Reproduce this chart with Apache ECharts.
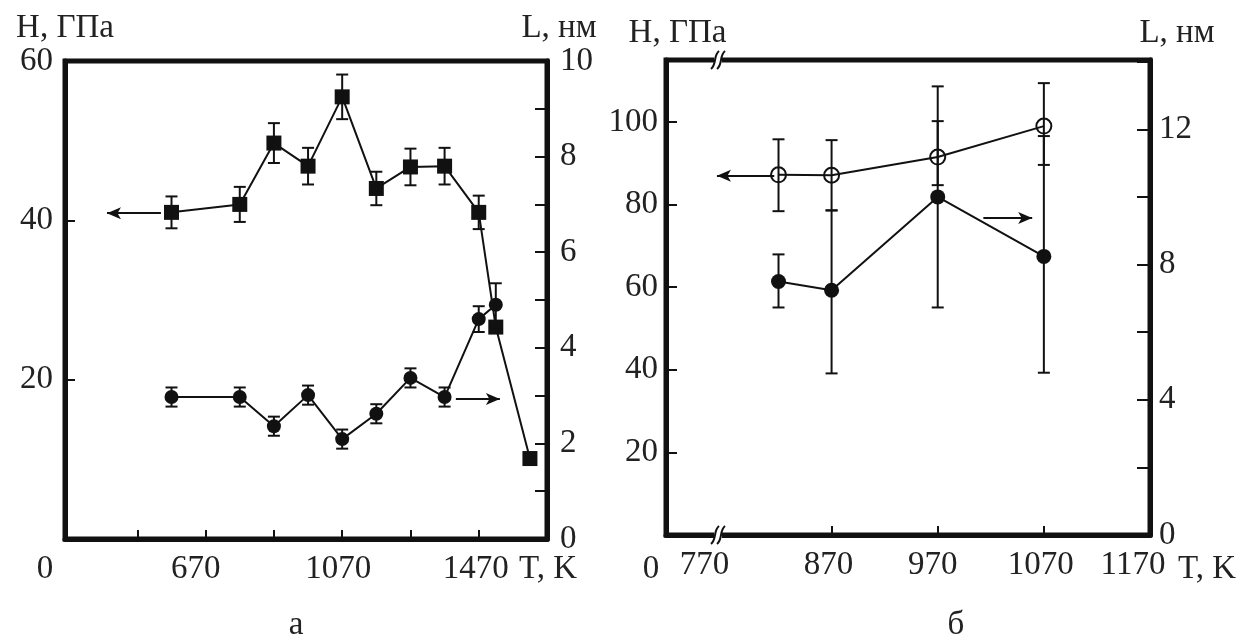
<!DOCTYPE html>
<html>
<head>
<meta charset="utf-8">
<script src="https://cdn.jsdelivr.net/npm/echarts@6/dist/echarts.min.js"></script>
<style>
  html, body { margin: 0; padding: 0; background: #fff; }
  #main { width: 1258px; height: 644px; }
</style>
</head>
<body>
<div id="main"></div>
<script>
// panel а: hardness (squares, left axis) and grain size (circles, right axis)
const tempA = [570, 770, 870, 970, 1070, 1170, 1270, 1370, 1470, 1520, 1620]
const hardA = [41, 42, 49.7, 46.8, 55.5, 44, 46.7, 46.8, 41, 26.6, 10.1]
const hardErrA = [2.0, 2.2, 2.5, 2.3, 2.8, 2.1, 2.3, 2.3, 2.1, 0, 0]
const tempSizeA = [570, 770, 870, 970, 1070, 1170, 1270, 1370, 1470, 1520]
const sizeA = [2.97, 2.97, 2.36, 3.01, 2.09, 2.62, 3.37, 2.97, 4.6, 4.9]
const sizeErrA = [0.2, 0.2, 0.2, 0.2, 0.2, 0.2, 0.2, 0.2, 0.27, 0.45]
const xTicksA = [470, 670, 870, 1070, 1270, 1470]
const xLabelsA = [670, 1070, 1470]
// arrows: [from T, to T, level]
const arrowHardA = [539, 381, 40.9]
const arrowSizeA = [1403, 1532, 2.93]

// panel б: hardness (open circles, left axis) and grain size (filled circles, right axis)
const tempB = [820, 870, 970, 1070]
const hardB = [87.2, 87.1, 91.5, 99]
const hardLowB = [78.4, 78.6, 84.7, 89.6]
const hardHighB = [95.8, 95.6, 100.2, 109.4]
const sizeB = [7.5, 7.24, 10.0, 8.24]
const sizeLowB = [6.73, 4.78, 6.73, 4.8]
const sizeHighB = [8.3, 9.6, 13.27, 11.8]
const xTicksB = [870, 970, 1070]
const xLabelsB = [770, 870, 970, 1070, 1170]
const arrowHardB = [816, 762, 87]
const arrowSizeB = [1013, 1059, 9.38]
const breakB = 763

const ink = '#111'
const txt = '#222'
const font = 'Liberation Serif'
const fs = 33

function errorBars(xs, lows, highs, xi, yi) {
  return {
    type: 'custom',
    xAxisIndex: xi,
    yAxisIndex: yi,
    z: 5,
    silent: true,
    encode: { x: 0, y: [1, 2] },
    data: xs.map((x, i) => [x, lows[i], highs[i]]),
    renderItem: (params, api) => {
      const top = api.coord([api.value(0), api.value(2)])
      const bot = api.coord([api.value(0), api.value(1)])
      const w = 6
      const st = { stroke: ink, lineWidth: 2 }
      return {
        type: 'group',
        children: [
          { type: 'line', shape: { x1: top[0], y1: top[1], x2: bot[0], y2: bot[1] }, style: st },
          { type: 'line', shape: { x1: top[0] - w, y1: top[1], x2: top[0] + w, y2: top[1] }, style: st },
          { type: 'line', shape: { x1: bot[0] - w, y1: bot[1], x2: bot[0] + w, y2: bot[1] }, style: st }
        ]
      }
    }
  }
}

function arrow(a) {
  return {
    silent: true,
    animation: false,
    symbol: ['none', 'arrow'],
    symbolSize: [9, 14],
    label: { show: false },
    lineStyle: { color: ink, width: 2, type: 'solid' },
    data: [[{ coord: [a[0], a[2]] }, { coord: [a[1], a[2]] }]]
  }
}

function shifted(shifts) {
  return v => {
    const p = shifts[v] || 0
    return '{s' + p + '|' + v + '}'
  }
}
function richFor(shifts) {
  const r = {}
  Object.values(shifts).concat([0]).forEach(p => {
    r['s' + p] = { fontFamily: font, fontSize: fs, color: txt, padding: [0, 2 * p, 0, 0] }
  })
  return r
}

const shiftsA = { 670: 10, 1070: 4, 1470: 3 }
const shiftsB = { 770: 21, 870: 3, 970: 5, 1070: 3, 1170: 17 }

const axisText = { fontFamily: font, fontSize: fs, color: txt }
const frameLine = { show: true, lineStyle: { color: ink, width: 5 } }

const option = {
  animation: false,
  backgroundColor: '#fff',
  grid: [
    { left: 65, top: 61, width: 482, height: 478, show: true, borderColor: ink, borderWidth: 5 },
    { left: 666, top: 60, width: 484, height: 475, show: true, borderColor: ink, borderWidth: 5 }
  ],
  xAxis: [
    {
      gridIndex: 0, type: 'value', min: 258, max: 1670,
      axisLine: frameLine,
      axisTick: { inside: true, length: 9, customValues: xTicksA, lineStyle: { color: ink, width: 2 } },
      axisLabel: { customValues: xLabelsA, margin: 14, formatter: shifted(shiftsA), rich: richFor(shiftsA), ...axisText },
      splitLine: { show: false }
    },
    {
      gridIndex: 1, type: 'value', min: 714, max: 1170,
      axisLine: frameLine,
      axisTick: { inside: true, length: 9, customValues: xTicksB, lineStyle: { color: ink, width: 2 } },
      axisLabel: { customValues: xLabelsB, margin: 14, formatter: shifted(shiftsB), rich: richFor(shiftsB), ...axisText },
      splitLine: { show: false }
    }
  ],
  yAxis: [
    {
      gridIndex: 0, type: 'value', min: 0, max: 60, interval: 20, position: 'left',
      axisLine: frameLine,
      axisTick: { inside: true, length: 10, lineStyle: { color: ink, width: 2 } },
      axisLabel: { margin: 12, formatter: v => (v === 0 ? '' : v), ...axisText },
      splitLine: { show: false },
      name: 'H, ГПа', nameLocation: 'end', nameGap: 10,
      nameTextStyle: { ...axisText, align: 'center', verticalAlign: 'bottom' }
    },
    {
      gridIndex: 0, type: 'value', min: 0, max: 10, interval: 1, position: 'right',
      axisLine: frameLine,
      axisTick: { inside: true, length: 12, lineStyle: { color: ink, width: 2 } },
      axisLabel: { margin: 13, formatter: v => (v % 2 === 0 ? v : ''), ...axisText },
      splitLine: { show: false },
      name: 'L, нм', nameLocation: 'end', nameGap: 10,
      nameTextStyle: { ...axisText, align: 'center', verticalAlign: 'bottom', padding: [0, 0, 0, 24] }
    },
    {
      gridIndex: 1, type: 'value', min: 0, max: 115, interval: 20, position: 'left',
      axisLine: frameLine,
      axisTick: { inside: true, length: 11, lineStyle: { color: ink, width: 2 } },
      axisLabel: { margin: 8, showMaxLabel: false, formatter: v => (v > 0 && v <= 100 ? v : ''), ...axisText },
      splitLine: { show: false },
      name: 'H, ГПа', nameLocation: 'end', nameGap: 10,
      nameTextStyle: { ...axisText, align: 'center', verticalAlign: 'bottom', padding: [0, 0, 0, 23] }
    },
    {
      gridIndex: 1, type: 'value', min: 0, max: 14.05, interval: 2, position: 'right',
      axisLine: frameLine,
      axisTick: { inside: true, length: 13, lineStyle: { color: ink, width: 2 } },
      axisLabel: { margin: 9, showMaxLabel: false, formatter: v => (v % 4 === 0 && v <= 12 ? v : ''), ...axisText },
      splitLine: { show: false },
      name: 'L, нм', nameLocation: 'end', nameGap: 10,
      nameTextStyle: { ...axisText, align: 'center', verticalAlign: 'bottom', padding: [0, 0, 0, 54] }
    }
  ],
  series: [
    errorBars(tempA, hardA.map((v, i) => v - hardErrA[i]), hardA.map((v, i) => v + hardErrA[i]), 0, 0),
    errorBars(tempSizeA, sizeA.map((v, i) => v - sizeErrA[i]), sizeA.map((v, i) => v + sizeErrA[i]), 0, 1),
    {
      type: 'line', xAxisIndex: 0, yAxisIndex: 0, z: 3,
      data: tempA.map((t, i) => [t, hardA[i]]),
      symbol: 'rect', symbolSize: 15,
      itemStyle: { color: ink },
      lineStyle: { color: ink, width: 2 },
      markLine: arrow(arrowHardA)
    },
    {
      type: 'line', xAxisIndex: 0, yAxisIndex: 1, z: 3,
      data: tempSizeA.map((t, i) => [t, sizeA[i]]),
      symbol: 'circle', symbolSize: 14,
      itemStyle: { color: ink },
      lineStyle: { color: ink, width: 2 },
      markLine: arrow(arrowSizeA)
    },
    errorBars(tempB, hardLowB, hardHighB, 1, 2),
    errorBars(tempB, sizeLowB, sizeHighB, 1, 3),
    {
      type: 'line', xAxisIndex: 1, yAxisIndex: 2, z: 3,
      data: tempB.map((t, i) => [t, hardB[i]]),
      symbol: 'circle', symbolSize: 15,
      itemStyle: { color: 'rgba(255,255,255,0)', borderColor: ink, borderWidth: 2 },
      lineStyle: { color: ink, width: 2 },
      markLine: arrow(arrowHardB)
    },
    {
      type: 'line', xAxisIndex: 1, yAxisIndex: 3, z: 3,
      data: tempB.map((t, i) => [t, sizeB[i]]),
      symbol: 'circle', symbolSize: 15,
      itemStyle: { color: ink },
      lineStyle: { color: ink, width: 2 },
      markLine: arrow(arrowSizeB)
    }
  ]
}

const chart = echarts.init(document.getElementById('main'))
chart.setOption(option)

// break marks on the x axis of panel б, plus the loose "0" labels, axis names and captions
const bx = chart.convertToPixel({ xAxisIndex: 1 }, breakB)
const yTop = 60
const yBot = 535
function breakMark(x, y) {
  const st = { stroke: ink, lineWidth: 2, fill: null }
  return [
    { type: 'rect', shape: { x: x - 4, y: y - 4, width: 8, height: 8 }, style: { fill: '#fff' }, z: 100 },
    { type: 'bezierCurve', shape: { x1: x - 7, y1: y + 9, cpx1: x - 1, cpy1: y + 4, cpx2: x - 5, cpy2: y - 4, x2: x + 1, y2: y - 9 }, style: st, z: 101 },
    { type: 'bezierCurve', shape: { x1: x - 1, y1: y + 9, cpx1: x + 5, cpy1: y + 4, cpx2: x + 1, cpy2: y - 4, x2: x + 7, y2: y - 9 }, style: st, z: 101 }
  ]
}
function label(text, x, y, align) {
  return { type: 'text', x: x, y: y, z: 100, style: { text: text, fontFamily: font, fontSize: fs, fill: txt, align: align || 'center', verticalAlign: 'middle' } }
}
chart.setOption({
  graphic: [
    ...breakMark(bx, yTop),
    ...breakMark(bx, yBot),
    label('0', 45, 569),
    label('0', 651, 569),
    label('T, K', 519, 569, 'left'),
    label('T, K', 1178, 569, 'left'),
    label('а', 296, 625),
    label('б', 956, 625)
  ]
})
</script>
</body>
</html>
